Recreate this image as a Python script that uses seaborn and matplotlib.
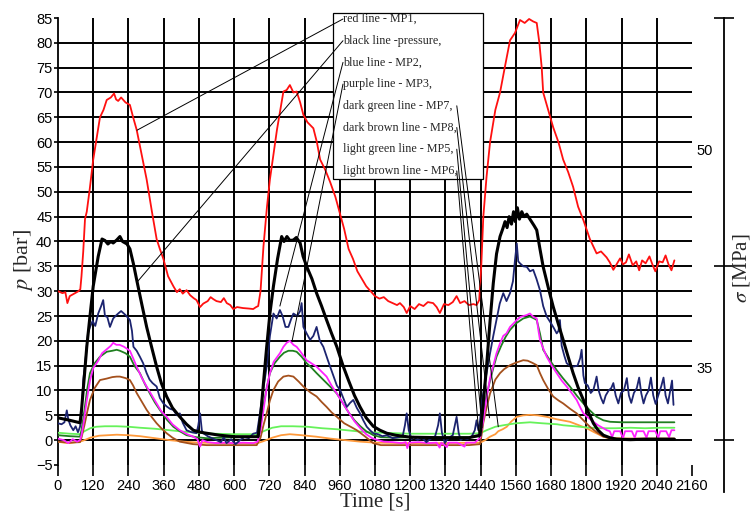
import matplotlib
matplotlib.use("Agg")
import matplotlib.pyplot as plt
import seaborn as sns
from matplotlib import font_manager
from matplotlib.patches import Rectangle

# ---- data (time in s, pressure in bar) ----
t_red = [0, 15, 25, 32, 40, 55, 70, 76, 80, 86, 92, 98, 108, 120, 132, 143, 155, 166, 180, 191, 198, 205, 215, 230,
         245, 256, 268, 285, 302, 320, 336, 347, 359, 375, 393, 405, 415, 425, 438, 450, 462, 472, 484, 495, 510, 520,
         529, 540, 555, 565, 575, 587, 597, 610, 630, 650, 665, 675, 682, 690, 700, 712, 722, 735, 746, 756, 768, 779,
         790, 802, 813, 825, 836, 850, 870, 882, 893, 910, 927, 945, 961, 975, 990, 1005, 1020, 1035, 1050, 1065, 1080,
         1095, 1110, 1125, 1140, 1155, 1165, 1178, 1188, 1200, 1215, 1230, 1245, 1260, 1278, 1290, 1301, 1315, 1330,
         1345, 1358, 1370, 1385, 1400, 1415, 1426, 1435, 1442, 1449, 1460, 1472, 1490, 1506, 1522, 1540, 1557, 1574,
         1590, 1605, 1619, 1631, 1640, 1648, 1653, 1670, 1687, 1705, 1721, 1738, 1755, 1772, 1790, 1812, 1835, 1850,
         1869, 1880, 1892, 1905, 1915, 1925, 1935, 1945, 1958, 1970, 1980, 1990, 2002, 2015, 2025, 2035, 2048, 2060,
         2070, 2080, 2090, 2100]
p_red = [30.0, 29.6, 29.8, 27.6, 29.0, 29.5, 30.0, 30.4, 33.0, 38.0, 44.5, 46.0, 50.5, 56.5, 61.0, 65.0, 66.5, 68.5,
         69.0, 69.8, 68.6, 68.3, 69.0, 68.0, 67.5, 65.0, 62.5, 57.5, 52.5, 46.0, 40.5, 38.5, 36.5, 33.0, 31.0, 29.8,
         30.4, 29.5, 30.2, 29.2, 28.6, 28.2, 26.8, 27.5, 28.0, 28.8, 28.4, 28.0, 27.8, 28.6, 27.6, 27.2, 26.4, 26.8,
         26.6, 26.5, 26.4, 26.8, 27.0, 30.0, 39.0, 47.0, 52.5, 58.0, 62.5, 66.0, 70.2, 70.5, 71.5, 70.0, 70.2, 68.0,
         65.5, 64.0, 62.8, 60.0, 56.5, 54.5, 52.0, 49.0, 45.5, 42.5, 38.5, 36.5, 34.0, 32.5, 31.0, 30.0, 29.0, 28.5,
         28.8, 28.0, 27.6, 27.2, 27.6, 26.8, 25.6, 27.0, 26.4, 27.4, 27.0, 27.8, 27.6, 26.8, 25.6, 27.4, 27.2, 27.8,
         29.0, 27.6, 28.0, 27.2, 27.4, 27.2, 28.2, 35.0, 45.0, 53.0, 60.0, 66.5, 70.0, 75.0, 80.5, 82.0, 84.6, 84.0,
         84.8, 84.3, 84.0, 80.0, 75.0, 70.0, 66.5, 63.0, 60.0, 56.5, 54.0, 51.0, 47.0, 44.3, 40.5, 37.6, 38.0, 36.8,
         35.8, 34.3, 35.6, 36.6, 35.4, 35.8, 37.4, 35.2, 36.0, 34.2, 36.2, 35.6, 37.0, 35.4, 34.0, 36.0, 35.8, 37.2,
         35.4, 34.2, 36.2]

t_black = [0, 40, 75, 80, 90, 98, 109, 120, 137, 150, 160, 170, 180, 188, 200, 211, 220, 235, 245, 257, 268, 285, 302,
           320, 336, 352, 370, 390, 415, 438, 461, 485, 506, 550, 600, 650, 682, 692, 700, 711, 722, 734, 748, 762,
           770, 780, 790, 802, 812, 825, 835, 847, 865, 881, 898, 915, 932, 950, 971, 990, 1010, 1029, 1050, 1074,
           1097, 1120, 1150, 1200, 1300, 1400, 1438, 1445, 1452, 1460, 1472, 1483, 1494, 1506, 1515, 1523, 1530, 1537,
           1545, 1552, 1558, 1565, 1572, 1580, 1588, 1597, 1610, 1622, 1631, 1642, 1653, 1670, 1687, 1704, 1721, 1738,
           1755, 1772, 1790, 1807, 1824, 1840, 1858, 1880, 1903, 1950, 2000, 2050, 2100]
p_black = [4.5, 4.0, 3.5, 6.0, 13.0, 18.8, 25.0, 31.0, 37.0, 40.5, 40.2, 39.5, 40.0, 39.7, 40.3, 41.0, 40.0, 39.5,
           38.5, 35.5, 32.3, 27.5, 22.8, 18.5, 14.8, 11.5, 8.8, 6.5, 4.7, 3.2, 2.0, 1.6, 1.4, 1.0, 0.7, 0.7, 0.7, 6.0,
           11.5, 18.8, 25.5, 31.0, 36.5, 41.0, 40.0, 41.0, 40.2, 40.3, 40.8, 39.7, 37.0, 35.0, 32.5, 29.6, 27.0, 24.2,
           21.5, 18.8, 15.0, 12.0, 9.0, 6.7, 4.5, 2.8, 2.0, 1.4, 1.0, 0.6, 0.5, 0.5, 1.0, 5.0, 9.5, 14.8, 24.0, 31.6,
           37.5, 41.0, 42.5, 44.0, 42.8, 45.0, 43.5, 46.0, 44.0, 46.8, 44.5, 46.0, 45.0, 45.5, 44.3, 43.2, 42.3, 38.5,
           34.9, 30.8, 26.9, 23.5, 20.2, 16.8, 13.5, 10.6, 8.1, 5.6, 3.4, 2.0, 1.0, 0.5, 0.2, 0.1, 0.2, 0.2, 0.2]

t_blue = [0, 12, 22, 30, 35, 42, 52, 60, 68, 75, 80, 86, 95, 102, 109, 118, 127, 137, 147, 154, 160, 168, 177, 188,
          196, 205, 215, 230, 245, 252, 257, 268, 279, 290, 302, 312, 322, 336, 347, 359, 370, 382, 393, 405, 415, 425,
          438, 455, 472, 478, 484, 490, 495, 510, 525, 540, 555, 565, 574, 590, 605, 620, 635, 650, 665, 678, 688, 700,
          711, 722, 734, 745, 756, 765, 775, 785, 795, 802, 815, 825, 830, 836, 847, 859, 870, 881, 892, 904, 920, 938,
          950, 961, 975, 984, 995, 1006, 1018, 1029, 1040, 1052, 1063, 1074, 1090, 1105, 1120, 1140, 1160, 1175, 1182,
          1188, 1195, 1205, 1210, 1225, 1240, 1255, 1270, 1285, 1295, 1301, 1308, 1318, 1324, 1335, 1345, 1352, 1358,
          1365, 1372, 1380, 1395, 1410, 1420, 1426, 1432, 1438, 1445, 1460, 1472, 1483, 1494, 1505, 1517, 1528, 1540,
          1550, 1557, 1563, 1568, 1574, 1585, 1597, 1608, 1619, 1630, 1642, 1653, 1665, 1680, 1690, 1699, 1705, 1710,
          1716, 1725, 1733, 1744, 1755, 1770, 1779, 1784, 1790, 1795, 1805, 1815, 1824, 1830, 1835, 1842, 1850, 1858,
          1866, 1876, 1885, 1892, 1900, 1909, 1918, 1928, 1938, 1945, 1953, 1962, 1972, 1980, 1987, 1995, 2003, 2012,
          2020, 2028, 2036, 2045, 2055, 2063, 2070, 2078, 2086, 2092, 2097]
p_blue = [3.4, 3.2, 3.6, 6.0, 4.2, 3.0, 2.0, 2.8, 1.6, 2.7, 5.0, 12.1, 17.0, 21.5, 22.8, 24.0, 23.0, 25.5, 27.0, 28.2,
          25.0, 24.8, 22.8, 24.5, 25.0, 25.5, 26.0, 25.2, 24.2, 22.0, 18.8, 18.0, 16.8, 15.5, 13.5, 12.2, 11.5, 10.8,
          8.5, 7.4, 6.8, 6.3, 6.1, 5.0, 5.4, 3.5, 2.0, 1.6, 1.4, 3.0, 5.4, 2.0, 1.4, 0.8, 0.4, 0.0, -0.4, 0.6, -0.6,
          0.2, -0.8, 0.0, 0.6, 0.4, 1.3, 1.5, 5.4, 10.5, 14.8, 21.0, 25.5, 24.5, 26.2, 25.0, 22.8, 22.8, 24.5, 25.5,
          25.0, 26.0, 27.6, 22.8, 21.5, 20.2, 21.0, 22.8, 20.0, 18.8, 16.0, 13.0, 11.0, 10.1, 8.0, 6.7, 7.5, 8.1, 6.5,
          5.4, 4.0, 2.7, 2.0, 1.4, 1.2, 0.8, 1.0, 0.4, 0.6, 1.0, 3.0, 5.4, 2.0, 0.2, 0.7, 0.0, 0.5, -0.4, 0.3, 0.8,
          3.0, 5.4, 1.5, -0.6, 0.0, 0.6, 1.0, 3.0, 4.7, 1.5, 0.0, 0.5, 0.2, 0.8, 2.0, 4.0, 2.0, 4.0, 8.0, 13.5, 17.5,
          21.0, 24.2, 27.5, 29.6, 28.0, 29.6, 32.0, 36.3, 39.6, 36.0, 35.6, 35.0, 34.9, 34.0, 34.3, 32.5, 30.2, 27.0,
          24.9, 23.5, 22.5, 21.5, 22.0, 24.2, 19.0, 17.0, 15.5, 15.0, 14.8, 15.0, 16.5, 18.2, 13.0, 11.5, 11.0, 9.5,
          10.1, 11.5, 12.8, 10.0, 8.5, 7.4, 9.0, 10.0, 10.5, 11.5, 9.0, 7.4, 9.5, 10.0, 12.5, 9.0, 7.5, 9.5, 10.5,
          12.6, 9.5, 7.4, 9.0, 10.0, 12.6, 9.0, 7.3, 9.0, 10.8, 12.6, 9.0, 7.4, 10.0, 12.0, 7.1]

t_purple = [0, 20, 35, 50, 65, 75, 80, 86, 98, 109, 120, 137, 150, 166, 180, 188, 199, 210, 225, 245, 256, 268, 285,
            302, 320, 336, 352, 370, 390, 415, 440, 461, 475, 484, 492, 510, 540, 570, 600, 630, 665, 680, 690, 700,
            711, 722, 735, 756, 768, 779, 790, 802, 813, 825, 836, 847, 865, 881, 898, 915, 932, 950, 970, 990, 1010,
            1030, 1050, 1070, 1090, 1110, 1140, 1170, 1185, 1190, 1196, 1230, 1260, 1290, 1300, 1306, 1325, 1330, 1360,
            1385, 1390, 1420, 1438, 1449, 1460, 1472, 1483, 1494, 1506, 1517, 1528, 1540, 1552, 1563, 1575, 1586, 1597,
            1608, 1620, 1631, 1637, 1642, 1653, 1665, 1682, 1699, 1716, 1733, 1750, 1767, 1780, 1790, 1807, 1824, 1840,
            1858, 1870, 1880, 1888, 1895, 1915, 1925, 1932, 1955, 1965, 1972, 1995, 2005, 2012, 2035, 2045, 2052, 2072,
            2082, 2090, 2100]
p_purple = [0.3, 0.0, -0.6, 0.2, -0.3, 0.0, 1.0, 3.0, 8.0, 12.0, 14.5, 16.0, 17.5, 18.3, 19.0, 19.6, 19.2, 19.2,
            18.8, 18.0, 16.5, 14.8, 12.6, 10.8, 9.0, 7.4, 5.8, 4.7, 3.2, 2.0, 1.2, 0.7, 0.2, -1.3, 0.0, -0.4, -0.6,
            -0.5, -0.6, -0.5, -0.6, -0.3, 2.0, 6.0, 10.5, 13.5, 15.8, 17.5, 18.8, 19.6, 20.0, 19.2, 18.8, 17.9, 17.0,
            16.1, 15.4, 14.8, 13.8, 12.8, 11.0, 9.4, 7.5, 5.6, 3.8, 2.4, 1.2, 0.4, 0.0, -0.3, -0.4, -0.6, -0.4, -1.6,
            -0.5, -0.4, -0.6, -0.5, -1.5, -0.5, -1.4, -0.5, -0.5, -1.3, -0.5, -0.5, 0.5, 4.0, 8.5, 12.5, 15.0, 17.5,
            19.5, 21.0, 21.5, 22.8, 23.5, 24.2, 24.8, 25.0, 25.2, 25.5, 24.8, 24.5, 22.0, 20.2, 18.5, 16.8, 15.0, 13.5,
            12.0, 10.8, 9.5, 8.1, 6.5, 5.4, 4.5, 3.7, 3.0, 2.4, 2.0, 1.8, 0.6, 1.8, 1.8, 0.4, 1.8, 1.8, 0.5, 1.8, 1.8,
            0.5, 1.8, 1.8, 0.5, 1.8, 1.8, 0.6, 2.0, 2.0]

t_dgreen = [0, 40, 75, 80, 90, 100, 109, 125, 143, 166, 185, 200, 211, 230, 245, 260, 279, 296, 313, 330, 347, 370,
            393, 415, 438, 470, 506, 560, 620, 677, 690, 700, 711, 722, 738, 756, 770, 785, 800, 813, 830, 847, 865,
            881, 898, 915, 932, 950, 970, 990, 1010, 1030, 1050, 1075, 1100, 1150, 1200, 1300, 1400, 1438, 1449, 1460,
            1472, 1483, 1494, 1510, 1525, 1540, 1560, 1585, 1608, 1622, 1631, 1642, 1653, 1670, 1685, 1699, 1720, 1744,
            1767, 1790, 1812, 1835, 1858, 1881, 1920, 1960, 2000, 2050, 2100]
p_dgreen = [1.0, 0.8, 0.7, 2.0, 6.0, 10.5, 13.5, 15.5, 16.8, 17.8, 18.0, 18.2, 18.0, 17.5, 16.8, 15.0, 13.5, 11.3, 9.4,
            7.6, 6.1, 4.2, 2.7, 1.8, 1.0, 0.6, 0.4, 0.5, 0.6, 0.7, 3.0, 7.0, 10.5, 13.5, 15.5, 16.8, 17.6, 18.0, 18.0,
            17.8, 16.8, 15.5, 14.5, 13.5, 12.5, 11.5, 10.5, 9.4, 7.5, 5.6, 4.0, 2.8, 1.8, 1.0, 0.6, 0.5, 0.6, 0.6, 0.6,
            0.8, 5.4, 9.0, 12.0, 14.5, 16.8, 19.0, 20.8, 22.2, 23.5, 24.5, 24.9, 24.5, 24.2, 21.5, 18.2, 16.6, 15.3,
            14.1, 12.5, 10.8, 9.0, 7.4, 6.0, 4.7, 4.0, 3.7, 3.6, 3.6, 3.6, 3.6, 3.6]

t_dbrown = [0, 40, 75, 80, 90, 100, 109, 125, 143, 166, 185, 200, 211, 230, 245, 256, 268, 285, 302, 320, 336, 352,
            370, 390, 415, 460, 506, 560, 620, 677, 690, 700, 711, 722, 734, 750, 768, 785, 802, 820, 836, 860, 881,
            898, 915, 932, 950, 975, 1000, 1018, 1045, 1074, 1100, 1200, 1300, 1400, 1438, 1443, 1449, 1460, 1472,
            1490, 1506, 1520, 1540, 1560, 1585, 1600, 1615, 1631, 1642, 1653, 1670, 1687, 1705, 1721, 1745, 1767, 1790,
            1812, 1835, 1858, 1880, 1920, 2000, 2100]
p_dbrown = [-0.3, -0.5, -0.4, 0.5, 3.0, 5.8, 8.1, 10.5, 12.1, 12.4, 12.7, 12.8, 12.8, 12.5, 12.1, 11.0, 9.5, 7.8, 6.1,
            4.6, 3.4, 2.4, 1.4, 0.5, -0.3, -0.8, -1.0, -1.0, -1.0, -1.0, 0.5, 3.0, 5.4, 8.0, 10.1, 11.8, 12.8, 13.0,
            12.8, 11.8, 10.8, 9.6, 8.8, 7.7, 6.7, 5.6, 4.7, 3.4, 2.6, 2.0, 0.8, -0.6, -1.0, -1.0, -1.0, -1.0, -0.8,
            1.0, 3.5, 6.5, 9.4, 12.2, 13.5, 14.3, 15.1, 15.6, 16.1, 16.0, 15.6, 15.1, 13.5, 12.1, 10.3, 8.8, 8.0, 7.4,
            6.3, 5.4, 4.0, 2.7, 1.6, 0.7, 0.4, 0.3, 0.3, 0.3]

t_lgreen = [0, 40, 75, 90, 110, 130, 160, 200, 240, 280, 330, 380, 430, 480, 530, 600, 680, 700, 730, 760, 800, 850,
            900, 950, 1000, 1050, 1100, 1150, 1200, 1300, 1400, 1438, 1460, 1490, 1517, 1560, 1608, 1650, 1700, 1721,
            1760, 1812, 1850, 1900, 1950, 2000, 2050, 2100]
p_lgreen = [1.5, 1.3, 1.2, 1.8, 2.4, 2.7, 2.8, 2.8, 2.7, 2.5, 2.3, 2.0, 1.7, 1.5, 1.3, 1.2, 1.2, 1.8, 2.5, 2.8, 2.8,
            2.7, 2.4, 2.2, 1.9, 1.6, 1.5, 1.4, 1.3, 1.3, 1.3, 1.4, 2.0, 2.7, 3.0, 3.4, 3.6, 3.4, 3.2, 3.0, 2.8, 2.5,
            2.4, 2.4, 2.5, 2.4, 2.5, 2.5]

t_lbrown = [0, 20, 40, 60, 75, 90, 110, 140, 170, 200, 240, 280, 330, 380, 430, 480, 560, 680, 700, 730, 760, 790,
            830, 880, 930, 980, 1030, 1080, 1200, 1300, 1438, 1455, 1472, 1490, 1500, 1515, 1529, 1545, 1563, 1585,
            1608, 1635, 1665, 1700, 1744, 1775, 1801, 1830, 1858, 1880, 1950, 2050, 2100]
p_lbrown = [-0.3, -0.5, -0.6, -0.4, -0.3, 0.0, 0.5, 0.9, 1.0, 1.1, 1.0, 0.8, 0.4, 0.0, -0.3, -0.5, -0.6, -0.6, -0.2,
            0.5, 1.0, 1.2, 1.0, 0.7, 0.3, 0.0, -0.3, -0.5, -0.6, -0.6, -0.5, 0.0, 0.7, 1.2, 1.8, 2.2, 2.7, 3.8, 4.7,
            5.0, 5.1, 5.0, 4.7, 4.2, 3.7, 3.0, 2.4, 1.5, 0.7, 0.4, 0.3, 0.3, 0.3]

legend_lines = ["red line - MP1,", "black line -pressure,", "blue line - MP2,", "purple line - MP3,",
                "dark green line - MP7,", "dark brown line - MP8,", "light green line - MP5,",
                "light brown line - MP6,"]
# where each legend text points to on the chart (time, pressure)
leader_end = [(269, 62.4), (269, 31.8), (756, 27.0), (797, 19.8),
              (1500, 2.7), (1470, 4.5), (1445, 2.5), (1435, 0.5)]

x_ticks = list(range(0, 2161, 120))
y_ticks = list(range(-5, 86, 5))

sns.set_style("white")
# the original tick numbers are in a condensed sans; use one if the machine has it
installed = {f.name for f in font_manager.fontManager.ttflist}
if "Liberation Sans Narrow" in installed:
    tick_font, tick_size = "Liberation Sans Narrow", 12
else:
    tick_font, tick_size = "Liberation Sans", 10.5
plt.rcParams["font.family"] = [tick_font, "DejaVu Sans"]
plt.rcParams["mathtext.fontset"] = "stix"

fig = plt.figure(figsize=(7.55, 5.14), dpi=100)
ax = fig.add_axes([58 / 755, 49 / 514, 634 / 755, 447 / 514])

# grid drawn by hand: no vertical line at 0 / 2160, no horizontal line at -5 / 85
ax.hlines(y_ticks[1:-1], 0, 2160, color="black", lw=1.4, zorder=1)
ax.vlines(x_ticks[1:-1], -5, 85, color="black", lw=1.4, zorder=1)

series = [
    (t_lbrown, p_lbrown, "#ff9a3c", 1.3),
    (t_lgreen, p_lgreen, "#66f25a", 1.3),
    (t_dbrown, p_dbrown, "#a4501c", 1.3),
    (t_dgreen, p_dgreen, "#1f7f1f", 1.3),
    (t_purple, p_purple, "#ff22ff", 1.3),
    (t_blue, p_blue, "#1c2470", 1.3),
    (t_black, p_black, "black", 2.2),
    (t_red, p_red, "#ff1010", 1.3),
]
for t, p, c, lw in series:
    sns.lineplot(x=t, y=p, color=c, linewidth=lw, ax=ax, estimator=None, sort=False, zorder=3)

ax.set_xlim(0, 2160)
ax.set_ylim(-5, 85)
ax.set_xticks(x_ticks)
ax.set_yticks(y_ticks)
ax.tick_params(axis="x", bottom=True, direction="out", length=8, width=1.2, pad=2, labelsize=tick_size,
               colors="black")
ax.tick_params(axis="y", left=True, direction="out", length=3, width=1.2, pad=1, labelsize=tick_size,
               colors="black")
for side in ["top", "right", "bottom"]:
    ax.spines[side].set_visible(False)
ax.spines["left"].set_color("black")
ax.spines["left"].set_linewidth(1.3)

ax.set_ylabel(r"$p$ [bar]", family="Liberation Serif", fontsize=16)
ax.yaxis.set_label_coords(-0.036, 0.459)
ax.set_xlabel("Time [s]", family="Liberation Serif", fontsize=15)
ax.xaxis.set_label_coords(0.5, -0.062)

# legend box with leader lines
box_x0, box_y0, box_w, box_h = 0.4338, 0.640, 0.236, 0.371
ax.add_patch(Rectangle((box_x0, box_y0), box_w, box_h, transform=ax.transAxes, facecolor="white",
                       edgecolor="black", lw=0.9, clip_on=False, zorder=5))
top_y = (465 - 19) / 447
step = 21.7 / 447
for i, label in enumerate(legend_lines):
    y = top_y - i * step
    ax.text(0.4495, y, label, transform=ax.transAxes, family="Liberation Serif", fontsize=8.7,
            va="center", ha="left", zorder=6)
    start_x = 0.4495 if i < 4 else 0.629
    ax.annotate("", xy=leader_end[i], xycoords="data", xytext=(start_x, y), textcoords="axes fraction",
                arrowprops=dict(arrowstyle="-", lw=0.7, color="black", shrinkA=0, shrinkB=0), zorder=7,
                annotation_clip=False)

# separate stress axis on the right
ax2 = fig.add_axes([724 / 755, 22 / 514, 0.0001, 474 / 514])
ax2.set_facecolor("none")
for side in ["top", "right", "bottom"]:
    ax2.spines[side].set_visible(False)
ax2.spines["left"].set_linewidth(1.3)
ax2.spines["left"].set_color("black")
ax2.set_xticks([])
ax2.set_ylim(-10.44, 85)
ax2.set_yticks([0, 35, 85])
ax2.set_yticklabels(["", "", ""])
ax2.set_yticks([14.7, 58.6], minor=True)
ax2.set_yticklabels(["35", "50"], minor=True)
ax2.tick_params(axis="y", which="major", left=True, direction="inout", length=14, width=1.2, colors="black")
ax2.tick_params(axis="y", which="minor", left=True, length=0, pad=8, labelsize=tick_size, colors="black")
fig.text(741 / 755, 1 - 268 / 514, r"$\sigma$ [MPa]", rotation=90, ha="center", va="center",
         family="Liberation Serif", fontsize=15)

fig.savefig("out.png", dpi=100)
